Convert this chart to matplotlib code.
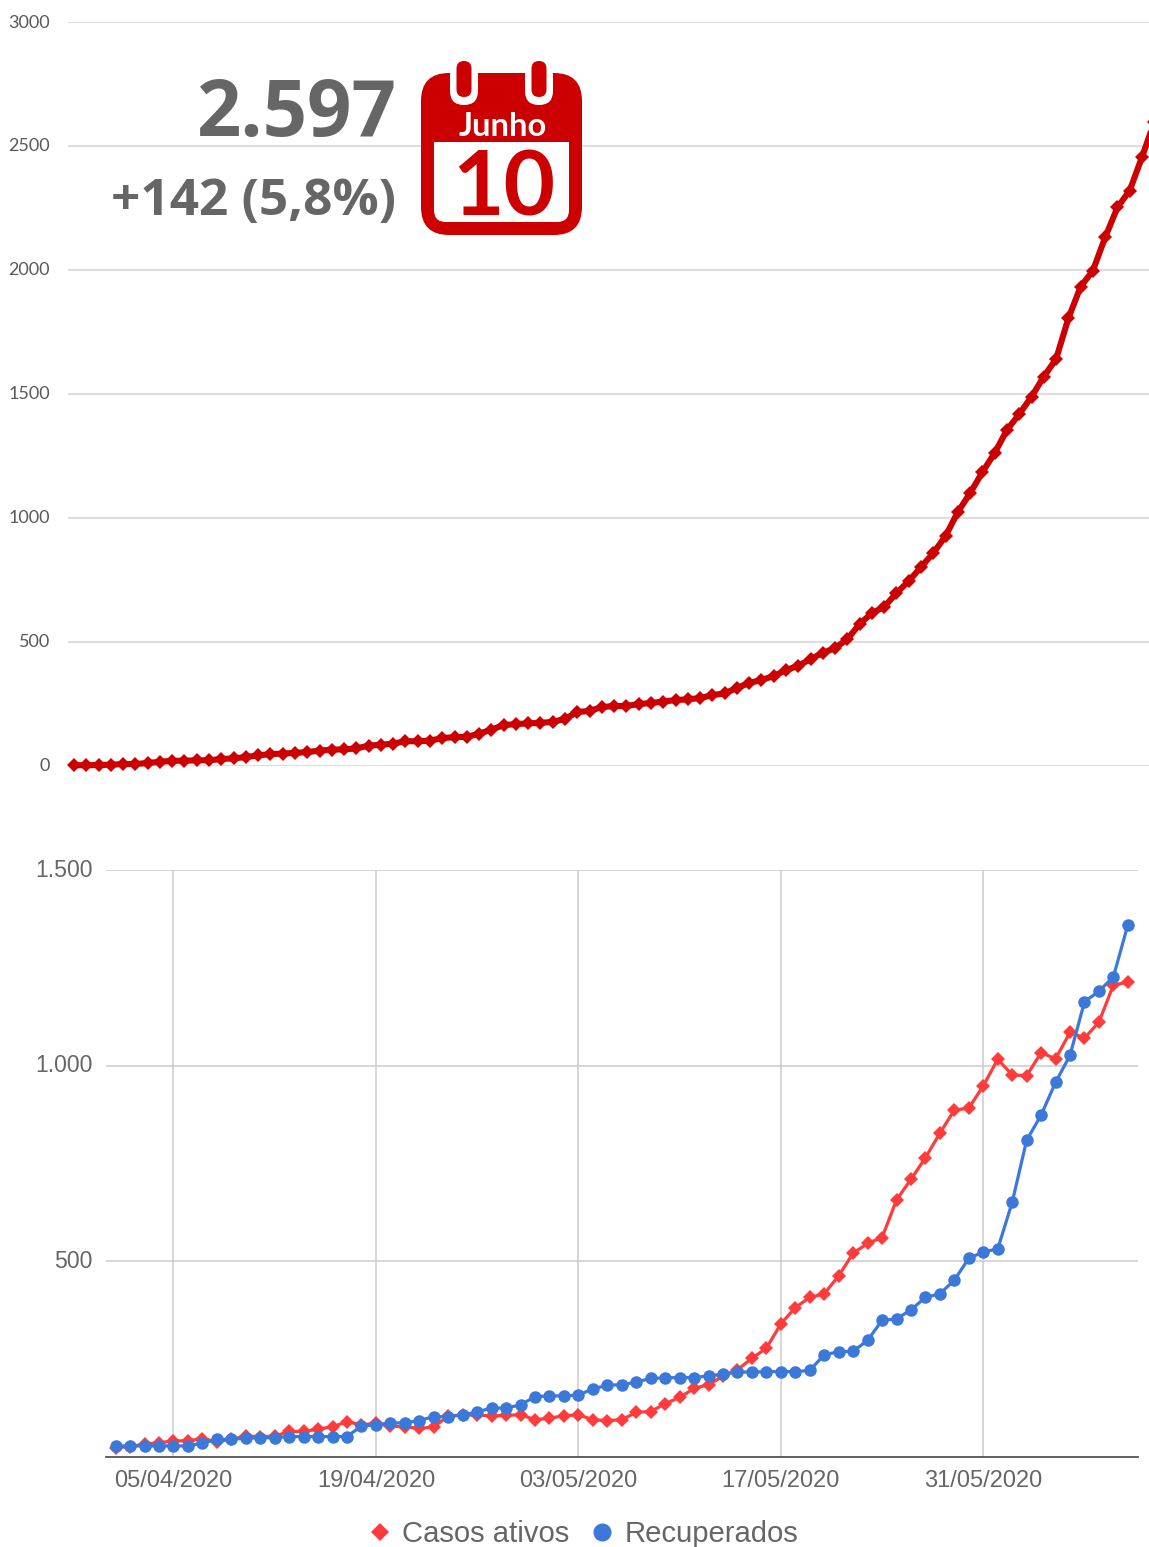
#!/usr/bin/env python3

import matplotlib
matplotlib.use("Agg")
import matplotlib.pyplot as plt
import matplotlib.transforms as mtrans
import pandas as pd
from matplotlib.lines import Line2D
from matplotlib.patches import FancyBboxPatch, Rectangle

# confirmados, 14/03 a 10/06
confirmados = [
    1, 1, 2, 3, 6, 6, 10, 15, 19, 19, 21, 21, 26, 29, 34, 41, 46, 48, 51, 54,
    60, 64, 65, 69, 80, 84, 88, 98, 98, 100, 111, 114, 116, 128, 145,
    163, 167, 170, 172, 176, 188, 216, 220, 236, 240, 240, 248, 252, 258,
    264, 267, 272, 284, 291, 313, 333, 345, 361, 385, 402, 430, 454, 474, 510,
    571, 615, 640, 696,
    744, 801, 857, 926, 1023, 1099, 1184, 1261, 1354, 1418,
    1488, 1569, 1640, 1804, 1932, 1997, 2131, 2252, 2320, 2455, 2597,
]

# 01/04 a 10/06
casos_ativos = [
    23, 25, 32, 35, 40, 40, 46, 38, 44, 52, 51, 52, 64, 64, 70, 76, 89, 81, 85,
    78, 76, 72, 75, 104, 106, 106,
    104, 105, 107, 94, 98, 104, 107, 94, 92, 94, 113, 115, 135, 151, 174, 184,
    205, 222, 251, 277, 339, 381,
    407, 416, 462, 520, 545, 560, 656, 709, 764, 827, 886, 891, 948, 1016, 976,
    974, 1033, 1017, 1085, 1070, 1111, 1206, 1213,
]
recuperados = [
    27, 27, 27, 27, 27, 27, 34, 44, 44, 47, 48, 48, 51, 51, 51, 51, 51, 78, 81,
    86, 86, 92, 102, 102, 106, 114,
    124, 124, 132, 153, 155, 155, 157, 173, 182, 184, 190, 200, 201, 202, 202,
    206, 211, 216, 216, 217, 217, 217, 220, 260, 268, 269, 297, 348, 352, 375,
    407, 416, 451, 507, 523, 531, 650, 809, 873, 957, 1026, 1163, 1190, 1227,
    1360,
]

top_ticks = [0, 500, 1000, 1500, 2000, 2500, 3000]
bottom_ticks = [500, 1000, 1500]
bottom_tick_labels = ["500", "1.000", "1.500"]
date_ticks = ["2020-04-05", "2020-04-19", "2020-05-03", "2020-05-17", "2020-05-31"]
date_tick_labels = ["05/04/2020", "19/04/2020", "03/05/2020", "17/05/2020", "31/05/2020"]

W, H = 1149, 1547
DARK_RED = "#cc0000"
RED = "#ff3b3b"
BLUE = "#3c78d8"
GREY = "#666666"


def axes_px(left, top, right, bottom):
    return [left / W, 1 - bottom / H, (right - left) / W, (bottom - top) / H]


def nudge_up(labels, px):
    off = mtrans.ScaledTranslation(0, px / 100, fig.dpi_scale_trans)
    for lab in labels:
        lab.set_transform(lab.get_transform() + off)


fig = plt.figure(figsize=(W / 100, H / 100), dpi=100)

# --- grafico de cima
top_dates = pd.date_range("2020-03-14", periods=len(confirmados))
ax1 = fig.add_axes(axes_px(68, 22, 1149, 765.5))
ax1.plot(top_dates, confirmados, color=DARK_RED, lw=4.4, marker="D", ms=7.6,
         mew=0, clip_on=False, zorder=3)
ax1.set_xlim(top_dates[0] - pd.Timedelta(days=0.49), top_dates[0] + pd.Timedelta(days=87.57))
ax1.set_ylim(0, 3000)
ax1.set_yticks(top_ticks)
ax1.set_yticklabels([str(t) for t in top_ticks], family="Lato", fontsize=13,
                    color="#595959")
ax1.tick_params(axis="y", length=0, pad=13)
ax1.tick_params(axis="x", length=0, labelbottom=False)
ax1.grid(axis="y", color="#dedede", lw=1.5)
ax1.set_axisbelow(True)
for s in ax1.spines.values():
    s.set_visible(False)
nudge_up(ax1.get_yticklabels(), 1)

# --- grafico de baixo
dates = pd.date_range("2020-04-01", periods=len(casos_ativos))
ax2 = fig.add_axes(axes_px(106, 870, 1138, 1456.5))
ax2.plot(dates, casos_ativos, color=RED, lw=2.3, marker="D", ms=7, mew=0,
         clip_on=False, zorder=3)
ax2.plot(dates, recuperados, color=BLUE, lw=2.3, marker="o", ms=9, mew=0,
         clip_on=False, zorder=4)
ax2.set_xlim(dates[0] - pd.Timedelta(days=0.664), dates[0] + pd.Timedelta(days=70.7))
ax2.set_ylim(0, 1500)
ax2.set_xticks(pd.to_datetime(date_ticks))
ax2.set_xticklabels(date_tick_labels, family="Liberation Sans", fontsize=17, color=GREY)
ax2.set_yticks(bottom_ticks)
ax2.set_yticklabels(bottom_tick_labels, family="Liberation Sans", fontsize=16.6, color=GREY)
ax2.tick_params(axis="x", length=0, pad=9.5)
ax2.tick_params(axis="y", length=0, pad=9.4)
ax2.grid(color="#cccccc", lw=1.1)
ax2.set_axisbelow(True)
for name in ["top", "left", "right"]:
    ax2.spines[name].set_visible(False)
ax2.spines["bottom"].set_color("#444444")
ax2.spines["bottom"].set_linewidth(1.2)
nudge_up(ax2.get_yticklabels(), 2)

handles = [
    Line2D([], [], color=RED, lw=0, marker="D", ms=9.4, mew=0, label="Casos ativos"),
    Line2D([], [], color=BLUE, lw=0, marker="o", ms=13, mew=0, label="Recuperados"),
]
fig.legend(handles=handles, loc="center", bbox_to_anchor=(581.5 / W, 1 - 1534 / H), ncol=2,
           frameon=False, labelcolor=GREY, handlelength=1.0, handletextpad=0.27,
           columnspacing=0.6, borderpad=0,
           prop={"family": "Liberation Sans", "size": 21.1})

# --- camada em pixels: numeros e calendario
over = fig.add_axes([0, 0, 1, 1], facecolor="none")
over.set_xlim(0, W)
over.set_ylim(H, 0)
over.axis("off")

over.text(396, 136, "2.597", ha="right", va="baseline", family="Open Sans",
          weight="bold", fontsize=56, color=GREY)
over.text(396, 215, "+142 (5,8%)", ha="right", va="baseline", family="Open Sans",
          weight="bold", fontsize=37, color=GREY)

over.add_patch(FancyBboxPatch((421, 73), 161, 162, boxstyle="round,pad=0,rounding_size=28",
                              fc=DARK_RED, ec="none"))
over.add_patch(FancyBboxPatch((434, 142), 135, 80, boxstyle="round,pad=0,rounding_size=12",
                              fc="white", ec="none"))
over.add_patch(Rectangle((434, 142), 135, 30, fc="white", ec="none"))
for ring_x in [450, 525]:
    over.add_patch(FancyBboxPatch((ring_x, 62), 28, 43, boxstyle="round,pad=0,rounding_size=14",
                                  fc="white", ec="none"))
    over.add_patch(FancyBboxPatch((ring_x + 6.5, 61), 15, 36, boxstyle="round,pad=0,rounding_size=7.5",
                                  fc=DARK_RED, ec="none"))
over.text(502.5, 136, "Junho", ha="center", va="baseline", family="Lato",
          weight="bold", fontsize=23.5, color="white")
over.text(504, 215, "10", ha="center", va="baseline", family="Lato",
          weight="bold", fontsize=64, color=DARK_RED)

fig.savefig("out.png", dpi=100, facecolor="white")
